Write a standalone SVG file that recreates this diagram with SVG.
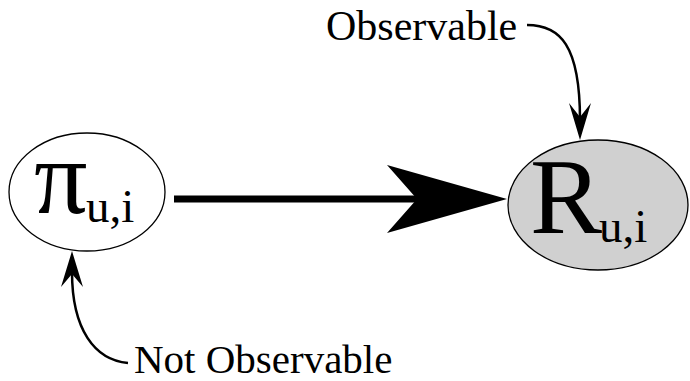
<svg xmlns="http://www.w3.org/2000/svg" width="690" height="381" viewBox="0 0 690 381">
<style>
.lbl{font-family:"Liberation Serif","Times New Roman",serif;fill:#000}
.node{stroke:#000;stroke-width:1.3}
.curve{fill:none;stroke:#000;stroke-width:2.5}
.head{fill:#000;stroke:none}
</style>
<rect width="690" height="381" fill="#fff"/>
<g id="node-pi">
<ellipse class="node" cx="87" cy="192" rx="78" ry="59" fill="#fff"/>
<text class="lbl" x="34" y="213" font-size="106">π</text>
<text class="lbl" x="86" y="222" font-size="47">u,i</text>
</g>
<g id="node-r">
<ellipse class="node" cx="598" cy="205" rx="90" ry="65" fill="#d0d0d0"/>
<text class="lbl" x="530" y="233" font-size="108">R</text>
<text class="lbl" x="599" y="242" font-size="47">u,i</text>
</g>
<g id="label-observable">
<text class="lbl" x="326" y="40" font-size="42">Observable</text>
</g>
<g id="label-not-observable">
<text class="lbl" x="134" y="373" font-size="41">Not Observable</text>
</g>
<g id="connectors">
<line x1="174" y1="199" x2="420" y2="199" stroke="#000" stroke-width="7"/>
<polygon class="head" points="507,199 387,165 417,199 387,233"/>
<path class="curve" d="M527,25 C560,25 580,45 580,120"/>
<polygon class="head" points="580,140 569,103 580,117 591,103"/>
<path class="curve" d="M128,363 C95,360 72,330 72,272"/>
<polygon class="head" points="72,251 61,287 72,274 83,287"/>
</g>
</svg>
